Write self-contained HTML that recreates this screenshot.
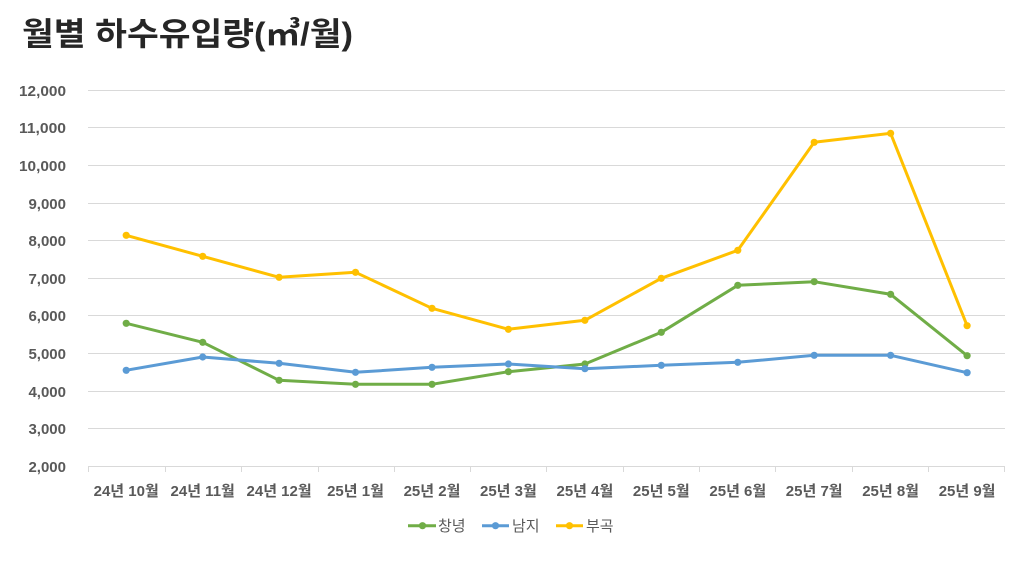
<!DOCTYPE html>
<html>
<head>
<meta charset="utf-8">
<style>
  html,body{margin:0;padding:0;background:#fff;}
  body{width:1022px;height:575px;overflow:hidden;}
  svg{display:block;}
  .t{font-family:"Liberation Sans","Noto Sans CJK KR",sans-serif;}
</style>
</head>
<body>
<svg width="1022" height="575" viewBox="0 0 1022 575" xmlns="http://www.w3.org/2000/svg">
  <rect width="1022" height="575" fill="#fff"/>
  <!-- title -->
  <text class="t" x="22" y="45" font-size="32" font-weight="bold" fill="#262626" textLength="331" lengthAdjust="spacingAndGlyphs">월별 하수유입량(㎥/월)</text>

  <!-- gridlines -->
  <g stroke="#d9d9d9" stroke-width="1">
    <line x1="88" x2="1005" y1="90.5" y2="90.5"/>
    <line x1="88" x2="1005" y1="127.5" y2="127.5"/>
    <line x1="88" x2="1005" y1="165.5" y2="165.5"/>
    <line x1="88" x2="1005" y1="203.5" y2="203.5"/>
    <line x1="88" x2="1005" y1="240.5" y2="240.5"/>
    <line x1="88" x2="1005" y1="278.5" y2="278.5"/>
    <line x1="88" x2="1005" y1="315.5" y2="315.5"/>
    <line x1="88" x2="1005" y1="353.5" y2="353.5"/>
    <line x1="88" x2="1005" y1="391.5" y2="391.5"/>
    <line x1="88" x2="1005" y1="428.5" y2="428.5"/>
    <line x1="88" x2="1005" y1="466.5" y2="466.5"/>
    <!-- ticks -->
    <line x1="88.5" x2="88.5" y1="466" y2="472"/>
    <line x1="165.5" x2="165.5" y1="466" y2="472"/>
    <line x1="241.5" x2="241.5" y1="466" y2="472"/>
    <line x1="318.5" x2="318.5" y1="466" y2="472"/>
    <line x1="394.5" x2="394.5" y1="466" y2="472"/>
    <line x1="470.5" x2="470.5" y1="466" y2="472"/>
    <line x1="546.5" x2="546.5" y1="466" y2="472"/>
    <line x1="623.5" x2="623.5" y1="466" y2="472"/>
    <line x1="699.5" x2="699.5" y1="466" y2="472"/>
    <line x1="775.5" x2="775.5" y1="466" y2="472"/>
    <line x1="852.5" x2="852.5" y1="466" y2="472"/>
    <line x1="928.5" x2="928.5" y1="466" y2="472"/>
    <line x1="1004.5" x2="1004.5" y1="466" y2="472"/>
  </g>

  <!-- y labels -->
  <g class="t" font-size="15" font-weight="bold" fill="#595959" text-anchor="end">
    <text x="66" y="96" textLength="47" lengthAdjust="spacingAndGlyphs">12,000</text>
    <text x="66" y="133" textLength="47" lengthAdjust="spacingAndGlyphs">11,000</text>
    <text x="66" y="171" textLength="47" lengthAdjust="spacingAndGlyphs">10,000</text>
    <text x="66" y="209">9,000</text>
    <text x="66" y="246">8,000</text>
    <text x="66" y="284">7,000</text>
    <text x="66" y="321">6,000</text>
    <text x="66" y="359">5,000</text>
    <text x="66" y="397">4,000</text>
    <text x="66" y="434">3,000</text>
    <text x="66" y="472">2,000</text>
  </g>

  <!-- x labels -->
  <g class="t" font-size="15" font-weight="bold" fill="#595959" text-anchor="middle">
    <text x="126.2" y="496">24년 10월</text>
    <text x="202.7" y="496">24년 11월</text>
    <text x="279.1" y="496">24년 12월</text>
    <text x="355.5" y="496">25년 1월</text>
    <text x="432" y="496">25년 2월</text>
    <text x="508.4" y="496">25년 3월</text>
    <text x="584.9" y="496">25년 4월</text>
    <text x="661.3" y="496">25년 5월</text>
    <text x="737.8" y="496">25년 6월</text>
    <text x="814.2" y="496">25년 7월</text>
    <text x="890.6" y="496">25년 8월</text>
    <text x="967.1" y="496">25년 9월</text>
  </g>

  <!-- 창녕 -->
  <g stroke="#70AD47" fill="#70AD47">
    <polyline fill="none" stroke-width="3" stroke-linejoin="round" points="126.2,323.3 202.7,342.3 279.1,380.3 355.5,384.3 432,384.3 508.4,371.7 584.9,364 661.3,332.3 737.8,285.3 814.2,281.7 890.6,294.3 967.1,355.7"/>
    <g stroke="none">
      <circle cx="126.2" cy="323.3" r="3.6"/><circle cx="202.7" cy="342.3" r="3.6"/><circle cx="279.1" cy="380.3" r="3.6"/><circle cx="355.5" cy="384.3" r="3.6"/><circle cx="432" cy="384.3" r="3.6"/><circle cx="508.4" cy="371.7" r="3.6"/><circle cx="584.9" cy="364" r="3.6"/><circle cx="661.3" cy="332.3" r="3.6"/><circle cx="737.8" cy="285.3" r="3.6"/><circle cx="814.2" cy="281.7" r="3.6"/><circle cx="890.6" cy="294.3" r="3.6"/><circle cx="967.1" cy="355.7" r="3.6"/>
    </g>
  </g>

  <!-- 남지 -->
  <g stroke="#5B9BD5" fill="#5B9BD5">
    <polyline fill="none" stroke-width="3" stroke-linejoin="round" points="126.2,370.3 202.7,357 279.1,363.3 355.5,372.3 432,367.3 508.4,364 584.9,368.7 661.3,365.3 737.8,362.3 814.2,355.3 890.6,355.3 967.1,372.7"/>
    <g stroke="none">
      <circle cx="126.2" cy="370.3" r="3.6"/><circle cx="202.7" cy="357" r="3.6"/><circle cx="279.1" cy="363.3" r="3.6"/><circle cx="355.5" cy="372.3" r="3.6"/><circle cx="432" cy="367.3" r="3.6"/><circle cx="508.4" cy="364" r="3.6"/><circle cx="584.9" cy="368.7" r="3.6"/><circle cx="661.3" cy="365.3" r="3.6"/><circle cx="737.8" cy="362.3" r="3.6"/><circle cx="814.2" cy="355.3" r="3.6"/><circle cx="890.6" cy="355.3" r="3.6"/><circle cx="967.1" cy="372.7" r="3.6"/>
    </g>
  </g>

  <!-- 부곡 -->
  <g stroke="#FFC000" fill="#FFC000">
    <polyline fill="none" stroke-width="3" stroke-linejoin="round" points="126.2,235.3 202.7,256.3 279.1,277.3 355.5,272.3 432,308.3 508.4,329.3 584.9,320.3 661.3,278.3 737.8,250.3 814.2,142.3 890.6,133.3 967.1,325.7"/>
    <g stroke="none">
      <circle cx="126.2" cy="235.3" r="3.6"/><circle cx="202.7" cy="256.3" r="3.6"/><circle cx="279.1" cy="277.3" r="3.6"/><circle cx="355.5" cy="272.3" r="3.6"/><circle cx="432" cy="308.3" r="3.6"/><circle cx="508.4" cy="329.3" r="3.6"/><circle cx="584.9" cy="320.3" r="3.6"/><circle cx="661.3" cy="278.3" r="3.6"/><circle cx="737.8" cy="250.3" r="3.6"/><circle cx="814.2" cy="142.3" r="3.6"/><circle cx="890.6" cy="133.3" r="3.6"/><circle cx="967.1" cy="325.7" r="3.6"/>
    </g>
  </g>

  <!-- legend -->
  <g>
    <line x1="408" x2="436" y1="525.7" y2="525.7" stroke="#70AD47" stroke-width="3"/>
    <circle cx="422.5" cy="525.7" r="3.6" fill="#70AD47"/>
    <line x1="482" x2="509" y1="525.7" y2="525.7" stroke="#5B9BD5" stroke-width="3"/>
    <circle cx="495.5" cy="525.7" r="3.6" fill="#5B9BD5"/>
    <line x1="556" x2="583" y1="525.7" y2="525.7" stroke="#FFC000" stroke-width="3"/>
    <circle cx="569.5" cy="525.7" r="3.6" fill="#FFC000"/>
  </g>
  <g class="t" font-size="15" fill="#595959">
    <text x="438" y="531">창녕</text>
    <text x="512" y="531">남지</text>
    <text x="586" y="531">부곡</text>
  </g>
</svg>
</body>
</html>
